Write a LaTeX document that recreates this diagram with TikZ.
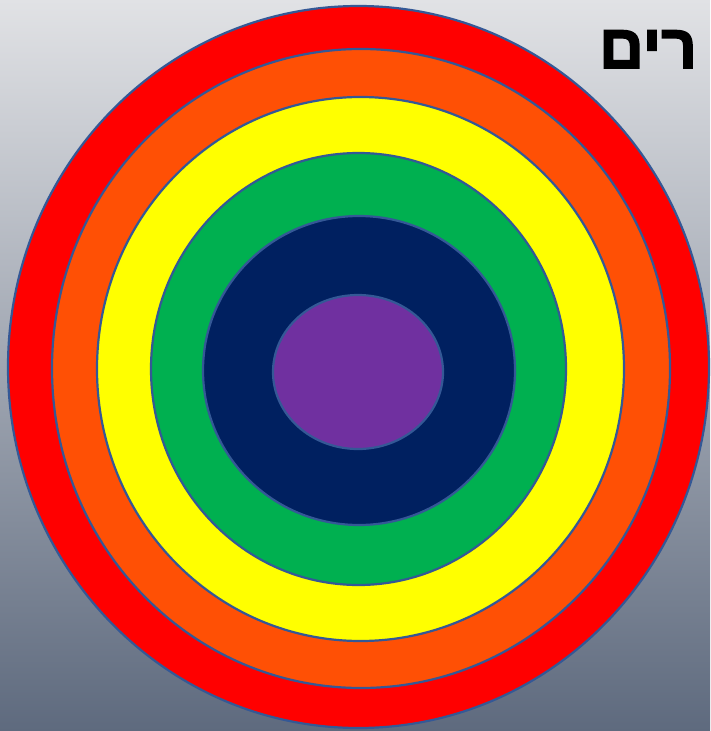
\documentclass[tikz,border=0pt]{standalone}
\usepackage{fontspec}
\newfontfamily\hebfont[Script=Hebrew, FakeBold=2.5]{Liberation Sans}
\TeXXeTstate=1
\definecolor{bgtop}{RGB}{225,226,229}
\definecolor{bgbot}{RGB}{94,106,126}
\definecolor{ringline}{RGB}{52,88,150}
\definecolor{cred}{RGB}{255,0,0}
\definecolor{corange}{RGB}{255,80,5}
\definecolor{cyellow}{RGB}{255,255,0}
\definecolor{cgreen}{RGB}{0,176,80}
\definecolor{cnavy}{RGB}{0,32,96}
\definecolor{cpurple}{RGB}{112,48,160}
\tikzset{ring/.style={draw=ringline, line width=2.2pt}}

\begin{document}
\begin{tikzpicture}[x=1pt, y=-1pt]
  \shade[top color=bgtop, bottom color=bgbot] (0,0) rectangle (710,731);
  \clip (0,0) rectangle (710,731);
  % rings from outside in
  \foreach \cx/\cy/\rx/\ry/\c in {358.5/367/350.5/361/cred,
      361/368.5/309/319.5/corange, 360.5/369/263.5/272/cyellow,
      358.5/369/207.5/216/cgreen, 359/370.5/156/154.5/cnavy,
      358/372/85/77/cpurple}
    \draw[ring, fill=\c] (\cx,\cy) ellipse ({\rx pt} and {\ry pt});
  \node[anchor=base west, inner sep=0pt, font=\hebfont\bfseries\fontsize{62}{64}\selectfont]
    (title) at (599,68) {\beginR רים\endR};
\end{tikzpicture}
\end{document}
